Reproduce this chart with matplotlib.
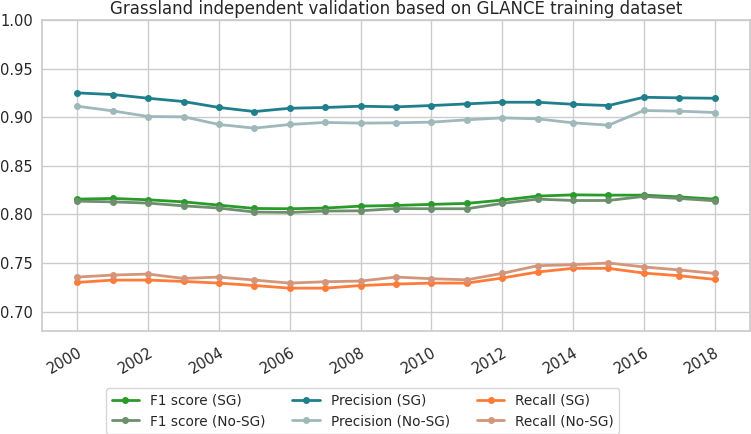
import numpy as np
import matplotlib
matplotlib.use("Agg")
import matplotlib.pyplot as plt
import seaborn as sns

years = list(range(2000, 2019))

f1_sg = [0.8157, 0.8164, 0.8150, 0.8129, 0.8095, 0.8061, 0.8058, 0.8065, 0.8085, 0.8092,
         0.8103, 0.8113, 0.8147, 0.8188, 0.8201, 0.8198, 0.8198, 0.8180, 0.8157]
f1_nosg = [0.8136, 0.8129, 0.8116, 0.8088, 0.8065, 0.8024, 0.8020, 0.8034, 0.8037, 0.8060,
           0.8058, 0.8058, 0.8113, 0.8157, 0.8143, 0.8143, 0.8185, 0.8164, 0.8140]
prec_sg = [0.9250, 0.9233, 0.9195, 0.9161, 0.9100, 0.9058, 0.9092, 0.9100, 0.9113, 0.9106,
           0.9120, 0.9137, 0.9154, 0.9154, 0.9133, 0.9120, 0.9205, 0.9199, 0.9195]
prec_nosg = [0.9113, 0.9065, 0.9007, 0.9004, 0.8925, 0.8887, 0.8925, 0.8946, 0.8939, 0.8942,
             0.8949, 0.8973, 0.8993, 0.8983, 0.8942, 0.8918, 0.9069, 0.9062, 0.9048]
rec_sg = [0.7300, 0.7324, 0.7324, 0.7310, 0.7293, 0.7268, 0.7241, 0.7241, 0.7268, 0.7283,
          0.7293, 0.7293, 0.7345, 0.7407, 0.7445, 0.7445, 0.7396, 0.7369, 0.7331]
rec_nosg = [0.7355, 0.7376, 0.7386, 0.7341, 0.7355, 0.7324, 0.7293, 0.7307, 0.7314, 0.7355,
            0.7338, 0.7327, 0.7393, 0.7472, 0.7482, 0.7500, 0.7459, 0.7428, 0.7393]

sns.set_theme(style="whitegrid")
plt.rcParams["font.family"] = ["DejaVu Sans"]

fig = plt.figure(figsize=(7.51, 4.34), dpi=100)
ax = fig.add_axes([0.0559, 0.2373, 0.9428, 0.7166])

series = [
    (f1_sg, "F1 score (SG)", "#2a9a2a"),
    (f1_nosg, "F1 score (No-SG)", "#6d8f6d"),
    (prec_sg, "Precision (SG)", "#1f7f8c"),
    (prec_nosg, "Precision (No-SG)", "#9fb8bb"),
    (rec_sg, "Recall (SG)", "#ff7b3a"),
    (rec_nosg, "Recall (No-SG)", "#d3967b"),
]
for vals, label, color in series:
    ax.plot(years, vals, marker="o", ms=4, lw=2, color=color, label=label)

ax.set_xlim(1999, 2019)
ax.set_ylim(0.68, 1.00)
ax.set_xticks(range(2000, 2019, 2))
ax.set_yticks(np.arange(0.70, 1.001, 0.05))
ax.set_yticklabels([f"{v:.2f}" for v in np.arange(0.70, 1.001, 0.05)])
plt.setp(ax.get_xticklabels(), rotation=30, ha="right", rotation_mode="anchor")
ax.tick_params(axis="x", labelsize=10.5, length=0, pad=10)
ax.tick_params(axis="y", labelsize=10.5, length=0, pad=6.5)
ax.set_title("Grassland independent validation based on GLANCE training dataset",
             fontsize=12, pad=4)

fig.legend(loc="upper center", bbox_to_anchor=(0.483, 0.122), ncol=3,
           fontsize=9.8, frameon=True)

fig.savefig("out.png", dpi=100)
